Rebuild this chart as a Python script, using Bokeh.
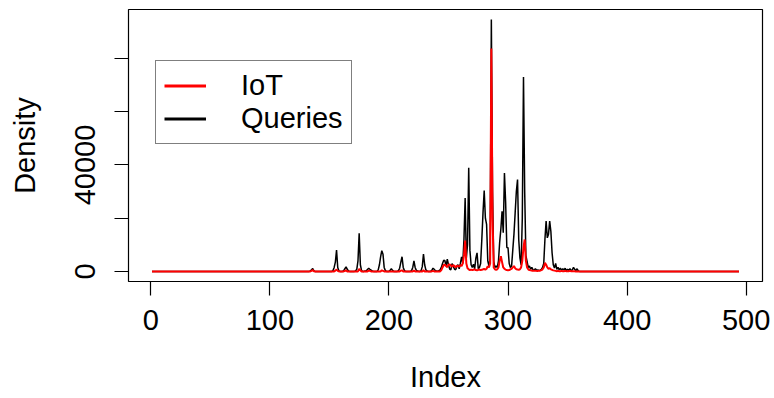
from bokeh.plotting import figure
from bokeh.models import Range1d, FixedTicker, Legend, LegendItem
from bokeh.embed import file_html
from bokeh.resources import INLINE

# ---- data ----
N = 494
lead_zeros = 129          # indices 1..129 are zero
tail_zeros = N - 129 - 231  # indices 361..494 are zero

# Queries, indices 130..360
queries_mid = [
    0, 0, 0, 0, 200, 600, 1100, 200, 0, 0,                      # 130-139
    0, 0, 0, 0, 0, 0, 0, 0, 0, 0,                               # 140-149
    0, 0, 0, 300, 1500, 3500, 8000, 1500, 200, 0,               # 150-159
    0, 0, 300, 1000, 1700, 800, 200, 0, 0, 0,                   # 160-169
    0, 0, 200, 800, 4000, 14300, 2500, 300, 0, 0,               # 170-179
    200, 300, 700, 1200, 800, 500, 200, 0, 0, 0,                # 180-189
    0, 600, 2500, 5500, 7800, 6500, 1500, 300, 0, 0,            # 190-199
    0, 400, 1000, 400, 0, 0, 0, 0, 300, 1200,                   # 200-209
    3500, 5500, 1500, 300, 0, 0, 0, 0, 0, 300,                  # 210-219
    1500, 4000, 1500, 400, 200, 0, 0, 300, 1800, 6500,          # 220-229
    2500, 600, 200, 0, 0, 0, 400, 1200, 800, 300,               # 230-239
    200, 0, 300, 600, 1500, 3000, 4200, 4000, 2000, 4600,       # 240-249
    2500, 900, 600, 2900, 2000, 900, 600, 1800, 2500, 1000,     # 250-259
    3000, 5500, 3000, 12000, 27600, 5000, 10000, 38900, 8000, 2500,   # 260-269
    1500, 2700, 1000, 5000, 7000, 1000, 1500, 3000, 12000, 22000,     # 270-279
    30400, 20000, 17700, 4000, 2000, 5000, 94600, 30000, 3800, 1500,  # 280-289
    2000, 1500, 4000, 11000, 16000, 22600, 14500, 37000, 26000, 9000, # 290-299
    8900, 3000, 1500, 2000, 8000, 14000, 22000, 30000, 34500, 12000,  # 300-309
    5100, 2500, 20000, 73000, 30000, 6000, 3800, 1500, 2000, 800,     # 310-319
    1500, 600, 500, 1000, 400, 600, 300, 500, 800, 1500,        # 320-329
    3000, 12000, 18900, 12600, 14000, 18900, 15000, 7000, 2500, 1300, # 330-339
    3000, 800, 1500, 600, 1200, 400, 1000, 500, 1200, 300,      # 340-349
    800, 400, 1000, 300, 600, 1500, 800, 300, 1000, 200,        # 350-359
    0,                                                          # 360
]

# IoT, indices 130..360
iot_mid = [
    0, 0, 0, 0, 0, 200, 500, 100, 0, 0,                         # 130-139
    0, 0, 0, 0, 0, 0, 0, 0, 0, 0,                               # 140-149
    0, 0, 0, 0, 0, 300, 700, 200, 0, 0,                         # 150-159
    0, 0, 0, 200, 400, 0, 0, 0, 0, 0,                           # 160-169
    0, 0, 0, 0, 0, 900, 400, 0, 0, 0,                           # 170-179
    0, 0, 0, 300, 200, 0, 0, 0, 0, 0,                           # 180-189
    0, 0, 0, 0, 400, 200, 0, 0, 0, 0,                           # 190-199
    0, 0, 0, 0, 0, 0, 0, 0, 0, 0,                               # 200-209
    300, 400, 0, 0, 0, 0, 0, 0, 0, 0,                           # 210-219
    0, 300, 0, 0, 0, 0, 0, 0, 0, 400,                           # 220-229
    0, 0, 0, 0, 0, 0, 0, 200, 0, 0,                             # 230-239
    0, 0, 0, 0, 500, 1500, 2400, 2500, 2000, 1600,              # 240-249
    2500, 2600, 2200, 1800, 2400, 2000, 1500, 2200, 2000, 1800, # 250-259
    2400, 2000, 3000, 6000, 11600, 3000, 1200, 800, 500, 700,   # 260-269
    500, 600, 800, 500, 400, 600, 700, 500, 600, 800,           # 270-279
    900, 700, 1000, 2000, 1500, 3000, 83700, 20000, 1500, 800,  # 280-289
    600, 800, 1500, 4000, 5700, 3500, 1500, 1000, 700, 500,     # 290-299
    400, 500, 800, 1000, 1500, 2000, 1200, 800, 700, 600,       # 300-309
    800, 1500, 4000, 9000, 12000, 4000, 1500, 800, 500, 400,    # 310-319
    300, 300, 200, 300, 200, 200, 300, 300, 500, 800,           # 320-329
    1500, 3200, 2500, 1500, 1000, 1200, 800, 600, 400, 300,     # 330-339
    200, 100, 200, 100, 100, 200, 100, 100, 200, 100,           # 340-349
    100, 100, 200, 100, 100, 100, 100, 0, 0, 0,                 # 350-359
    0,                                                          # 360
]

queries = [0] * lead_zeros + queries_mid + [0] * tail_zeros
iot = [0] * lead_zeros + iot_mid + [0] * tail_zeros
index = list(range(1, N + 1))

x_ticks = [0, 100, 200, 300, 400, 500]
y_ticks = [0, 20000, 40000, 60000, 80000]
y_tick_labels = {0: "0", 20000: "", 40000: "40000", 60000: "", 80000: ""}
series_names = ["IoT", "Queries"]

# ---- figure ----
FONT = "Liberation Sans"
FS = "29px"

ymax = max(max(queries), max(iot))
ypad = 0.04 * ymax
xpad = 0.04 * (N - 1)

p = figure(width=774, height=398, output_backend="svg", toolbar_location=None,
           x_range=Range1d(1 - xpad, N + xpad), y_range=Range1d(-ypad, ymax + ypad),
           min_border_left=128, min_border_right=12, min_border_top=9, min_border_bottom=117)

p.background_fill_color = "white"
p.border_fill_color = "white"
p.outline_line_color = "black"
p.outline_line_width = 1.2
p.xgrid.visible = False
p.ygrid.visible = False

r_q = p.line(index, queries, line_color="black", line_width=1.5)
r_i = p.line(index, iot, line_color="#ff0000", line_width=2)

# legend swatches (thicker lines as in the legend); a single point draws nothing in the plot
leg_i = p.line(index[:1], iot[:1], line_color="#ff0000", line_width=3)
leg_q = p.line(index[:1], queries[:1], line_color="black", line_width=3)

for ax in (p.xaxis[0], p.yaxis[0]):
    ax.axis_line_color = None
    ax.major_tick_line_color = "black"
    ax.major_tick_line_width = 1.2
    ax.major_tick_in = 0
    ax.major_tick_out = 14
    ax.minor_tick_line_color = None
    ax.major_label_text_font = FONT
    ax.major_label_text_font_size = FS
    ax.major_label_text_color = "black"
    ax.axis_label_text_font = FONT
    ax.axis_label_text_font_size = FS
    ax.axis_label_text_font_style = "normal"
    ax.axis_label_text_color = "black"

p.xaxis[0].ticker = FixedTicker(ticks=x_ticks)
p.xaxis[0].axis_label = "Index"
p.xaxis[0].major_label_standoff = 14
p.xaxis[0].axis_label_standoff = 28

p.yaxis[0].ticker = FixedTicker(ticks=y_ticks)
p.yaxis[0].major_label_overrides = y_tick_labels
p.yaxis[0].major_label_orientation = "vertical"
p.yaxis[0].axis_label = "Density"
p.yaxis[0].major_label_standoff = 19
p.yaxis[0].axis_label_standoff = 32

legend = Legend(items=[LegendItem(label=series_names[0], renderers=[leg_i]),
                       LegendItem(label=series_names[1], renderers=[leg_q])],
                location=(27, 137))
legend.border_line_color = "black"
legend.border_line_width = 1.2
legend.background_fill_color = "white"
legend.background_fill_alpha = 1
legend.label_text_font = FONT
legend.label_text_font_size = FS
legend.label_text_color = "black"
legend.label_height = 29
legend.glyph_height = 29
legend.glyph_width = 42
legend.label_standoff = 35
legend.spacing = 0
legend.padding = 8
legend.margin = 0
p.add_layout(legend, "center")

open("out.html", "w").write(file_html(p, INLINE))
